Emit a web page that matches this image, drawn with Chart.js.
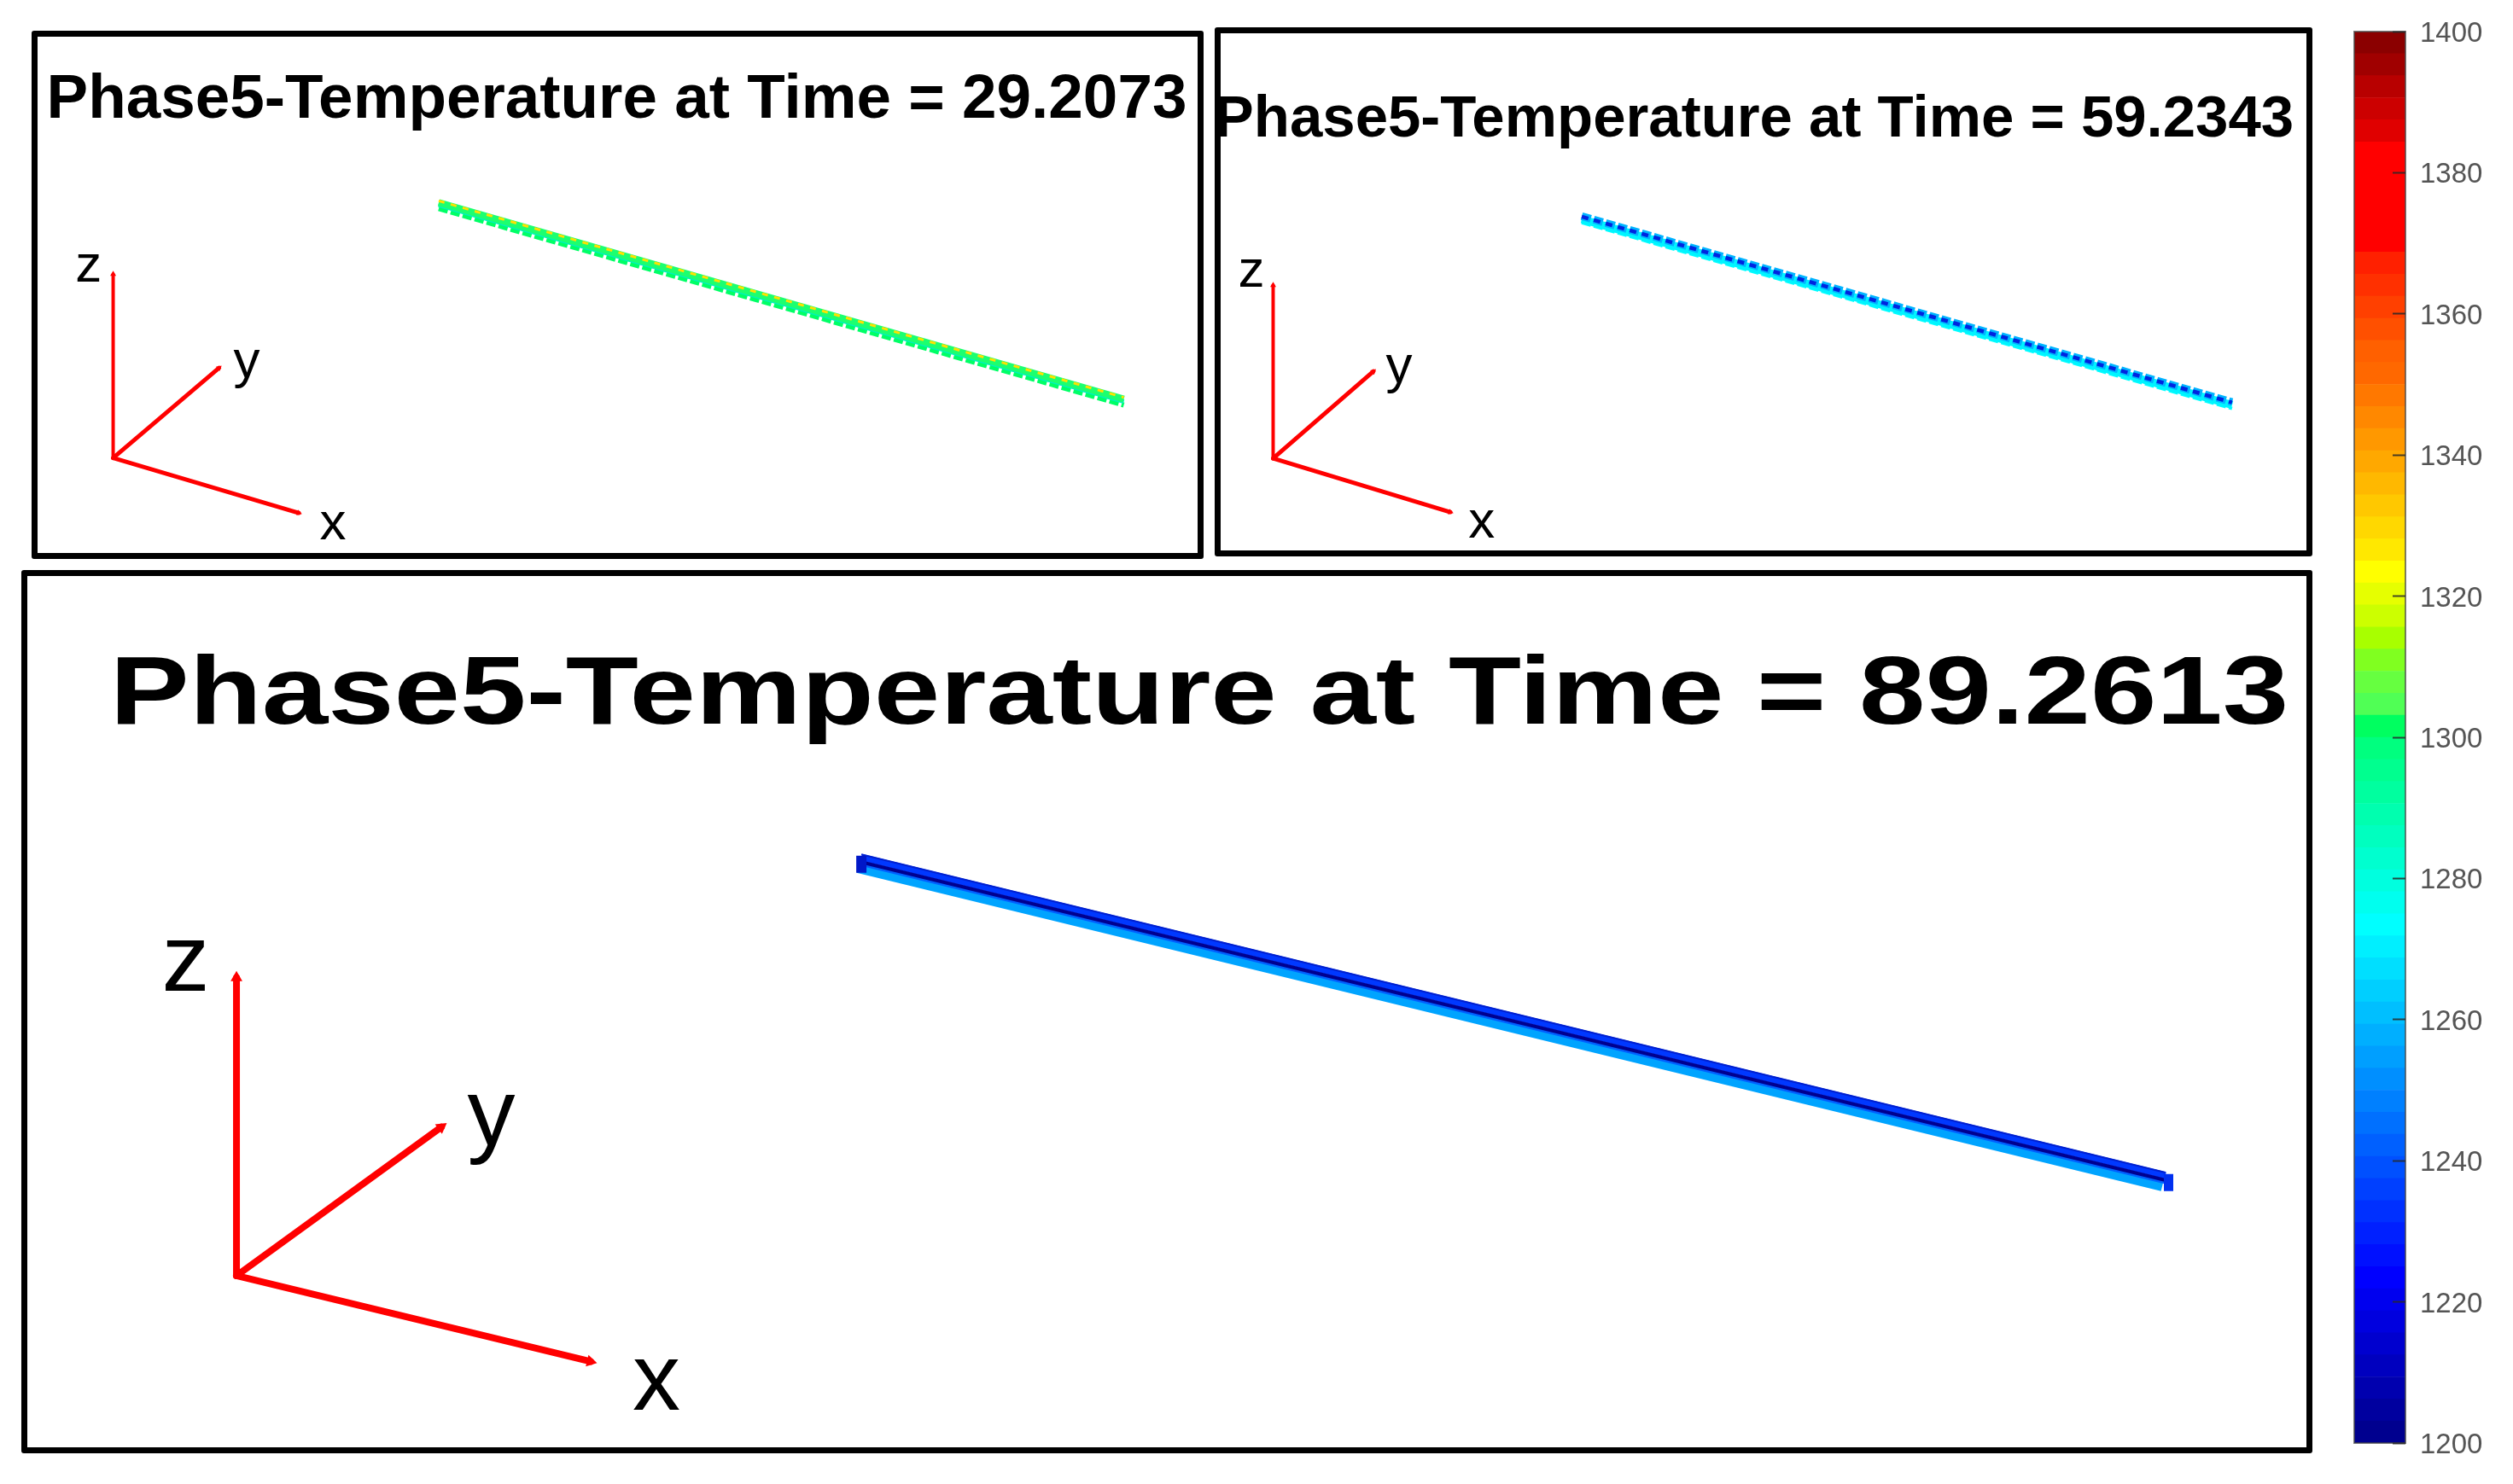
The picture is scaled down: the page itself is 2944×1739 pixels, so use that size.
<!DOCTYPE html>
<html>
<head>
<meta charset="utf-8">
<title>Phase5 temperature</title>
<script src="https://cdn.jsdelivr.net/npm/chart.js@4"></script>
<style>
  html, body { margin: 0; background: #fff; overflow: hidden; }
  body { width: 2944px; height: 1739px; position: relative; }
  canvas { position: absolute; filter: blur(0.7px); }
  .frame { position: absolute; box-sizing: border-box; border: 7px solid #000; border-radius: 3px; }
</style>
</head>
<body>
<div class="frame" style="left:37px;top:36px;width:1373px;height:619px"></div>
<div class="frame" style="left:1423px;top:32px;width:1286px;height:620px"></div>
<div class="frame" style="left:25px;top:668px;width:2684px;height:1035px"></div>
<canvas id="panel1" width="1371" height="616" style="left:37px;top:37px"></canvas>
<canvas id="panel2" width="1310" height="616" style="left:1399px;top:33px"></canvas>
<canvas id="panel3" width="2608" height="1030" style="left:101px;top:670px"></canvas>
<canvas id="colorbar" width="204" height="1739" style="left:2740px;top:0"></canvas>
<script>
const titlePrefix = 'Phase5-Temperature at Time = ';
const panelTimes = ['29.2073', '59.2343', '89.2613'];
const axisNames = ['z', 'y', 'x'];

// all panel values are percent of the plot area: origin, z tip, y tip, x tip
const p1TriadX = [6.97, 6.97, 16.02, 22.83];
const p1TriadY = [74.86, 28.29, 52.05, 88.77];
const p1NameX = [4.86, 18.38, 25.75];
const p1NameY = [26.55, 50.65, 91.71];
const p1BarX = [34.79, 93.33];
const p1OrangeY = [9.72, 59.51];
const p1UpperY = [10.15, 59.94];
const p1MiddleY = [10.8, 60.59];
const p1LowerY = [11.66, 61.45];

const p2TriadX = [7.06, 7.06, 16.03, 22.9];
const p2TriadY = [75.6, 31.37, 53.38, 89.32];
const p2NameX = [5.11, 18.32, 25.7];
const p2NameY = [28.02, 52.39, 92.07];
const p2BarX = [34.66, 92.82];
const p2DarkY = [13.83, 61.33];
const p2SkyY = [13.72, 61.22];
const p2MiddleY = [14.49, 61.99];
const p2LowerY = [15.36, 62.86];

const p3TriadX = [6.75, 6.75, 15.95, 22.65];
const p3TriadY = [74.69, 31.6, 53.2, 87.1];
const p3NameX = [4.47, 18.19, 25.61];
const p3NameY = [29.63, 51.97, 90.24];
const p3BarX = [34.82, 93.4];
const p3EdgeY = [13.77, 59.77];
const p3BlueY = [14.2, 60.2];
const p3NavyY = [14.88, 60.88];
const p3MidY = [15.19, 61.19];
const p3LightX = [34.66, 93.25];
const p3LightY = [15.78, 61.8];
const p3LeftCapX = [34.82, 34.82];
const p3LeftCapY = [13.95, 16.42];
const p3RightCapX = [93.54, 93.54];
const p3RightCapY = [60.0, 62.47];

// colour bar, read bottom to top
const scaleLabels = ['1200', '1220', '1240', '1260', '1280', '1300', '1320', '1340', '1360', '1380', '1400'];
const scaleStart = 1200;
const bandStep = 3.125;
const bandColors = [
  '#00008f', '#00009f', '#0000af', '#0000bf', '#0000cf', '#0000df', '#0000ef', '#0000ff',
  '#0010ff', '#0020ff', '#0030ff', '#0040ff', '#0050ff', '#0060ff', '#0070ff', '#0080ff',
  '#008fff', '#009fff', '#00afff', '#00bfff', '#00cfff', '#00dfff', '#00efff', '#00ffff',
  '#00ffef', '#00ffdf', '#00ffcf', '#00ffbf', '#00ffaf', '#00ff9f', '#00ff8f', '#00ff7f',
  '#00ff60', '#50ff55', '#66ff40', '#80ff20', '#a8ff00', '#ccff00', '#e6ff00', '#ffff00',
  '#ffe800', '#ffd800', '#ffc800', '#ffb800', '#ffa800', '#ff9800', '#ff8800', '#ff7800',
  '#ff6800', '#ff6000', '#ff5000', '#ff4000', '#ff3000', '#ff2000', '#ff0000', '#ff0000',
  '#ff0000', '#ff0000', '#ff0000', '#e00000', '#cc0000', '#b80000', '#a00000', '#8b0000'
];

function toPoints(xs, ys) {
  return xs.map((x, i) => ({ x: x, y: ys[i] }));
}

function stripe(label, xs, ys, color, width, dash) {
  return {
    label,
    data: toPoints(xs, ys),
    showLine: true,
    borderColor: color,
    borderWidth: width,
    borderDash: dash || [],
    borderCapStyle: 'butt',
    pointRadius: 0
  };
}

function arrow(label, xs, ys, tip, width, head) {
  return {
    label,
    data: [{ x: xs[0], y: ys[0] }, { x: xs[tip], y: ys[tip] }],
    showLine: true,
    borderColor: '#ff0000',
    borderWidth: width,
    borderCapStyle: 'round',
    pointRadius: [0, head],
    pointStyle: 'triangle',
    pointBackgroundColor: '#ff0000',
    pointBorderWidth: 0,
    pointRotation: function (c) {
      const sx = c.chart.scales.x, sy = c.chart.scales.y;
      if (!sx || !sy) return 0;
      const dx = sx.getPixelForValue(xs[tip]) - sx.getPixelForValue(xs[0]);
      const dy = sy.getPixelForValue(ys[tip]) - sy.getPixelForValue(ys[0]);
      return Math.atan2(dx, -dy) * 180 / Math.PI;
    }
  };
}

// the big title in the picture is wider than the font, so squeeze it out sideways
const titleStretch = {
  id: 'titleStretch',
  afterUpdate(chart, args, opts) {
    const block = chart.titleBlock;
    if (!block || block.stretched) return;
    const sx = opts.sx || 1, shift = opts.shift || 0;
    const draw = block.draw;
    block.stretched = true;
    block.draw = function () {
      const ctx = chart.ctx, mid = chart.width / 2;
      ctx.save();
      ctx.translate(mid + shift, 0);
      ctx.scale(sx, 1);
      ctx.translate(-mid, 0);
      draw.call(this);
      ctx.restore();
    };
  }
};

const triadNames = {
  id: 'triadNames',
  afterDatasetsDraw(chart, args, opts) {
    const ctx = chart.ctx;
    ctx.save();
    ctx.font = opts.size + 'px "Liberation Sans"';
    ctx.fillStyle = '#000';
    ctx.textAlign = 'center';
    ctx.textBaseline = 'middle';
    axisNames.forEach((n, i) => {
      ctx.fillText(n, chart.scales.x.getPixelForValue(opts.xs[i]), chart.scales.y.getPixelForValue(opts.ys[i]));
    });
    ctx.restore();
  }
};

function makePanel(id, time, titleFont, titlePad, stretch, names, sets) {
  return new Chart(document.getElementById(id), {
    type: 'scatter',
    data: { datasets: sets },
    plugins: [titleStretch, triadNames],
    options: {
      responsive: false,
      animation: false,
      layout: { padding: 0, autoPadding: false },
      scales: {
        x: { type: 'linear', display: false, min: 0, max: 100 },
        y: { type: 'linear', display: false, min: 0, max: 100, reverse: true }
      },
      plugins: {
        legend: { display: false },
        tooltip: { enabled: false },
        title: {
          display: true,
          text: titlePrefix + time,
          color: '#000',
          align: 'center',
          font: { family: '"Liberation Sans"', weight: 'bold', size: titleFont },
          padding: titlePad
        },
        titleStretch: stretch,
        triadNames: names
      }
    }
  });
}

function triad(xs, ys, zWidth, width, head) {
  return [
    arrow('z axis', xs, ys, 1, zWidth, head),
    arrow('y axis', xs, ys, 2, width, head),
    arrow('x axis', xs, ys, 3, width, head)
  ];
}

makePanel('panel1', panelTimes[0], 72, { top: 38, bottom: 29 }, { sx: 1.012 },
  { xs: p1NameX, ys: p1NameY, size: 62 },
  triad(p1TriadX, p1TriadY, 4, 5, 4).concat([
    stripe('orange', p1BarX, p1OrangeY, '#ffe000', 3, [7, 7.6]),
    stripe('upper', p1BarX, p1UpperY, '#1cff70', 8),
    stripe('middle', p1BarX, p1MiddleY, '#00f0c0', 5),
    stripe('lower', p1BarX, p1LowerY, '#00ff66', 6, [11, 3.6])
  ]));

makePanel('panel2', panelTimes[1], 68.7, { top: 67, bottom: 8 }, { sx: 1.004, shift: 1 },
  { xs: p2NameX, ys: p2NameY, size: 62 },
  triad(p2TriadX, p2TriadY, 4, 5, 4).concat([
    stripe('dark', p2BarX, p2DarkY, '#0024e0', 4.5, [8, 6.6]),
    stripe('sky', p2BarX, p2SkyY, '#00b4ff', 9, [11, 3.6]),
    stripe('middle', p2BarX, p2MiddleY, '#00f4ff', 9),
    stripe('lower', p2BarX, p2LowerY, '#00ffff', 4, [11, 3.6])
  ]));

makePanel('panel3', panelTimes[2], 113, { top: 79, bottom: 5 }, { sx: 1.232, shift: 0 },
  { xs: p3NameX, ys: p3NameY, size: 112 },
  triad(p3TriadX, p3TriadY, 8, 8, 8).concat([
    stripe('right end', p3RightCapX, p3RightCapY, '#0030f0', 11),
    stripe('left end', p3LeftCapX, p3LeftCapY, '#0018c8', 12),
    stripe('top edge', p3BarX, p3EdgeY, '#0020d0', 2),
    stripe('navy', p3BarX, p3NavyY, '#000090', 4),
    stripe('blue', p3BarX, p3BlueY, '#0038ff', 8),
    stripe('mid', p3BarX, p3MidY, '#0060ff', 4),
    stripe('light', p3LightX, p3LightY, '#00a4ff', 11)
  ]));

const barFrame = {
  id: 'barFrame',
  afterDatasetsDraw(chart) {
    const a = chart.chartArea, ctx = chart.ctx;
    ctx.save();
    ctx.strokeStyle = 'rgba(70,70,70,0.7)';
    ctx.lineWidth = 2;
    ctx.strokeRect(a.left, a.top, a.right - a.left, a.bottom - a.top);
    ctx.restore();
  }
};

new Chart(document.getElementById('colorbar'), {
  type: 'bar',
  data: {
    labels: ['Temperature'],
    datasets: bandColors.map((c, i) => ({
      label: 'band ' + (i + 1),
      data: [[scaleStart + i * bandStep, scaleStart + (i + 1) * bandStep]],
      backgroundColor: c,
      borderWidth: 0,
      grouped: false,
      barPercentage: 1,
      categoryPercentage: 1
    }))
  },
  plugins: [barFrame],
  options: {
    responsive: false,
    animation: false,
    layout: { padding: { left: 18, top: 37, bottom: 48, right: 0 }, autoPadding: false },
    scales: {
      x: { display: false },
      y: {
        position: 'right',
        min: 1200,
        max: 1400,
        // tick padding leaks into the scale's top/bottom padding, drop it
        afterFit: s => { s.width = 126; s.paddingTop = 0; s.paddingBottom = 0; },
        afterBuildTicks: s => { s.ticks = scaleLabels.map(v => ({ value: Number(v) })); },
        border: { display: false },
        grid: { drawOnChartArea: false, tickLength: -15, tickWidth: 2, tickColor: 'rgba(40,40,40,0.85)', z: 1 },
        ticks: {
          padding: 32,
          labelOffset: 3,
          color: '#555',
          autoSkip: false,
          font: { family: '"Liberation Sans"', size: 33 },
          callback: v => String(v)
        }
      }
    },
    plugins: { legend: { display: false }, tooltip: { enabled: false } }
  }
});
</script>
</body>
</html>
